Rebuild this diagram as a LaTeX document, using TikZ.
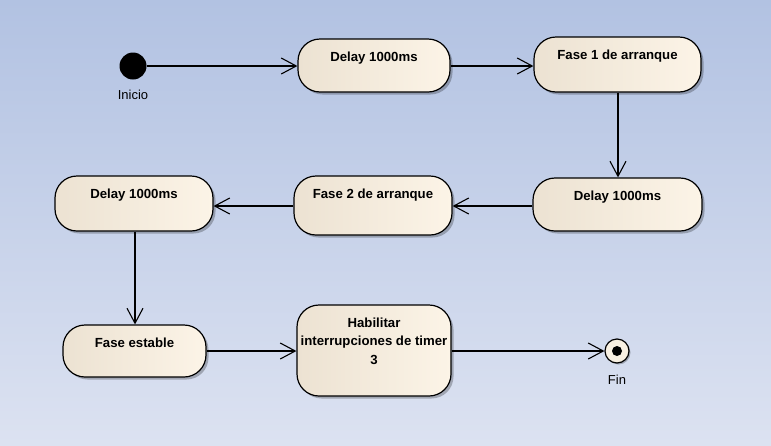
\documentclass[tikz,border=0pt]{standalone}
\usepackage{fontspec}
\setmainfont{Liberation Sans}
\usetikzlibrary{arrows.meta,shadows,positioning}
\definecolor{bgtop}{RGB}{178,194,226}
\definecolor{bgbot}{RGB}{220,226,241}
\definecolor{boxl}{RGB}{236,226,210}
\definecolor{boxr}{RGB}{252,244,231}
\definecolor{endfill}{RGB}{248,240,226}
\tikzset{
  x=1pt, y=-1pt,
  statebox/.style={draw=black, line width=1.2pt, rounded corners=22pt,
    left color=boxl, right color=boxr,
    drop shadow={shadow xshift=2.5pt, shadow yshift=-2.5pt, fill=black, opacity=0.25},
    inner sep=0pt},
  boxtext/.style={font=\fontsize{13.2}{18.5}\selectfont\bfseries, align=center, inner sep=0pt, anchor=north},
  flow/.style={draw=black, line width=1.1pt, -{Straight Barb[length=15pt,width=16pt,line width=1.1pt]}},
  plainlabel/.style={font=\fontsize{13}{15}\selectfont, inner sep=0pt}
}
\newcommand{\stbox}[6]{%
  \node[statebox, minimum width=#4pt, minimum height=#5pt] (#1) at (#2,#3) {};
  \node[boxtext] (#1t) at ([yshift=-13pt]#1.north) {#6};
}
\begin{document}
\begin{tikzpicture}
\shade[top color=bgtop, bottom color=bgbot] (0,0) rectangle (771,445);
\useasboundingbox (0,0) rectangle (771,445);

% initial
\node[circle, fill=black, minimum size=27pt, inner sep=0pt] (start) at (133,66) {};
\node[plainlabel] (startl) at (133,95) {Inicio};

\stbox{b1}{374}{65.5}{152}{53}{Delay 1000ms}
\stbox{b2}{617.5}{64.5}{167}{55}{Fase 1 de arranque}
\stbox{b3}{617.5}{204.5}{169}{53}{Delay 1000ms}
\stbox{b4}{373}{205.5}{158}{59}{Fase 2 de arranque}
\stbox{b5}{134}{203.5}{158}{55}{Delay 1000ms}
\stbox{b6}{134.5}{351}{143}{52}{Fase estable}
\stbox{b7}{374}{350.5}{154}{91}{Habilitar\\interrupciones de timer\\3}

% final
\node[circle, draw=black, line width=1.2pt, fill=endfill, minimum size=24pt, inner sep=0pt,
  drop shadow={shadow xshift=1.5pt, shadow yshift=-1.5pt, fill=black, opacity=0.25}] (fin) at (617,351) {};
\node[circle, fill=black, minimum size=10pt, inner sep=0pt] (findot) at (fin.center) {};
\node[plainlabel] (finl) at (617,380) {Fin};

% flows
\draw[flow] (start.east) -- (b1.west |- start.east);
\draw[flow] (b1.east |- start.east) -- (b2.west |- start.east);
\draw[flow] (b2.south -| 618,0) -- (b3.north -| 618,0);
\draw[flow] (b3.west |- 0,206) -- (b4.east |- 0,206);
\draw[flow] (b4.west |- 0,206) -- (b5.east |- 0,206);
\draw[flow] (b5.south -| 135,0) -- (b6.north -| 135,0);
\draw[flow] (b6.east |- 0,351) -- (b7.west |- 0,351);
\draw[flow] (b7.east |- 0,351) -- (fin.west);
\end{tikzpicture}
\end{document}
